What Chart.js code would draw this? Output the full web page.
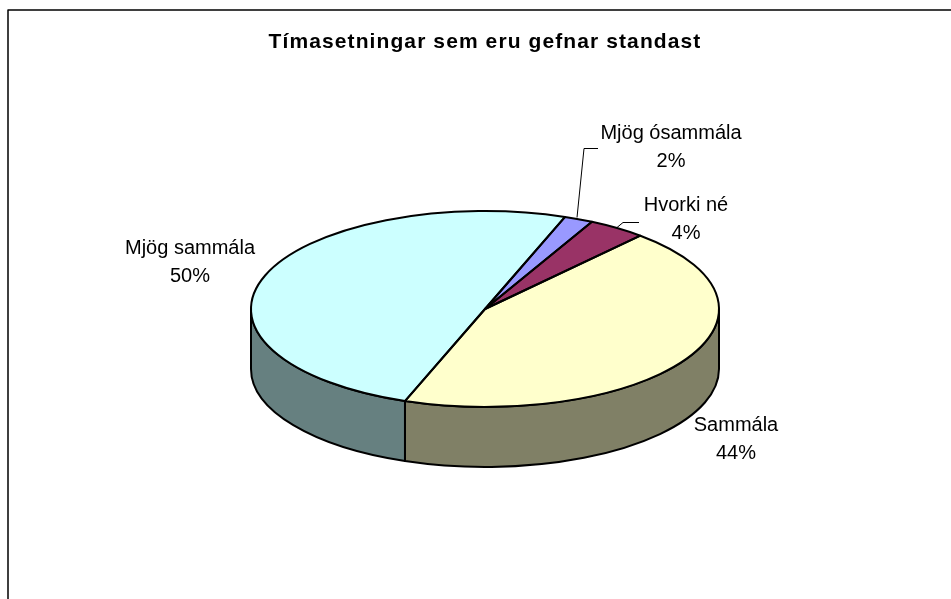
<!DOCTYPE html>
<html>
<head>
<meta charset="utf-8">
<style>
  html, body { margin: 0; padding: 0; background: #fff; overflow: hidden; }
  #chart { display: block; }
</style>
<script src="https://cdn.jsdelivr.net/npm/chart.js@4/dist/chart.umd.min.js"></script>
</head>
<body>
<canvas id="chart" width="951" height="599"></canvas>
<script>
const chartTitle = 'Tímasetningar sem eru gefnar standast';
const categories = ['Mjög ósammála', 'Hvorki né', 'Sammála', 'Mjög sammála'];
const percentages = [2, 4, 44, 50];
const topColors = ['#9999FF', '#993366', '#FFFFCC', '#CCFFFF'];
const wallColors = ['#4D4D80', '#4D1A33', '#808066', '#668080'];

// Look of the tilted pie
const centerX = 485;
const centerY = 309;
const radius = 234;
const tilt = 98 / 234;
const depth = 60;

// Label centres, one line each for name and percent
const labelSpots = [
  { x: 671, y: 133 },
  { x: 686, y: 205 },
  { x: 736, y: 425 },
  { x: 190, y: 248 }
];
const leaders = [
  [[577, 217], [584, 148], [598, 148]],
  [[617, 227], [623, 222], [639, 222]]
];

// Walk the lower half of the rim that a slice covers
function wallRanges(start, end) {
  const twoPi = Math.PI * 2;
  const ranges = [];
  for (let k = -1; k <= 1; k++) {
    const a = Math.max(start, k * twoPi);
    const b = Math.min(end, k * twoPi + Math.PI);
    if (b > a) ranges.push([a, b]);
  }
  return ranges;
}

const tiltedPie = {
  id: 'tiltedPie',
  beforeDraw(chart) {
    chart.ctx.letterSpacing = '1.1px';
  },
  beforeDatasetsDraw(chart) {
    const ctx = chart.ctx;
    ctx.letterSpacing = '0px';
    const arcs = chart.getDatasetMeta(0).data;

    // side wall first, the top goes over it
    arcs.forEach(function(arc, i) {
      wallRanges(arc.startAngle, arc.endAngle).forEach(function(r) {
        ctx.beginPath();
        ctx.ellipse(centerX, centerY, radius, radius * tilt, 0, r[0], r[1]);
        ctx.ellipse(centerX, centerY + depth, radius, radius * tilt, 0, r[1], r[0], true);
        ctx.closePath();
        ctx.fillStyle = wallColors[i];
        ctx.fill();
        ctx.lineWidth = 2;
        ctx.strokeStyle = '#000';
        ctx.lineJoin = 'round';
        ctx.stroke();
      });
    });

    // squash the library's own arcs into the ellipse
    const first = arcs[0];
    ctx.save();
    ctx.translate(centerX, centerY);
    ctx.scale(1, tilt);
    ctx.translate(-first.x, -first.y);
  },
  afterDatasetsDraw(chart) {
    const ctx = chart.ctx;
    ctx.restore();

    // outlines go after restore so the pen stays round
    chart.getDatasetMeta(0).data.forEach(function(arc) {
      ctx.beginPath();
      ctx.moveTo(centerX, centerY);
      ctx.ellipse(centerX, centerY, radius, radius * tilt, 0, arc.startAngle, arc.endAngle);
      ctx.closePath();
      ctx.lineWidth = 2;
      ctx.strokeStyle = '#000';
      ctx.lineJoin = 'round';
      ctx.stroke();
    });

    // frame: no right or bottom side in the picture
    ctx.beginPath();
    ctx.moveTo(8, 599);
    ctx.lineTo(8, 10);
    ctx.lineTo(951, 10);
    ctx.lineWidth = 1.5;
    ctx.strokeStyle = '#000';
    ctx.stroke();

    // leader lines
    ctx.lineWidth = 1;
    leaders.forEach(function(points) {
      ctx.beginPath();
      points.forEach(function(p, i) {
        if (i === 0) ctx.moveTo(p[0], p[1] + 0.5);
        else ctx.lineTo(p[0], p[1] + 0.5);
      });
      ctx.stroke();
    });

    // slice labels
    ctx.font = '20px "Liberation Sans", Arial, sans-serif';
    ctx.fillStyle = '#000';
    ctx.textAlign = 'center';
    ctx.textBaseline = 'middle';
    categories.forEach(function(name, i) {
      ctx.fillText(name, labelSpots[i].x, labelSpots[i].y);
      ctx.fillText(percentages[i] + '%', labelSpots[i].x, labelSpots[i].y + 28);
    });
  }
};

new Chart(document.getElementById('chart'), {
  type: 'pie',
  data: {
    labels: categories,
    datasets: [{
      data: percentages,
      backgroundColor: topColors,
      borderWidth: 0,
      radius: radius
    }]
  },
  options: {
    responsive: false,
    animation: false,
    events: [],
    rotation: 20,
    layout: { padding: { left: 19 } },
    plugins: {
      legend: { display: false },
      tooltip: { enabled: false },
      title: {
        display: true,
        text: chartTitle,
        color: '#000',
        font: { family: '"Liberation Sans", Arial, sans-serif', size: 21, weight: 'bold' },
        padding: { top: 30, bottom: 10 }
      }
    }
  },
  plugins: [tiltedPie]
});
</script>
</body>
</html>
